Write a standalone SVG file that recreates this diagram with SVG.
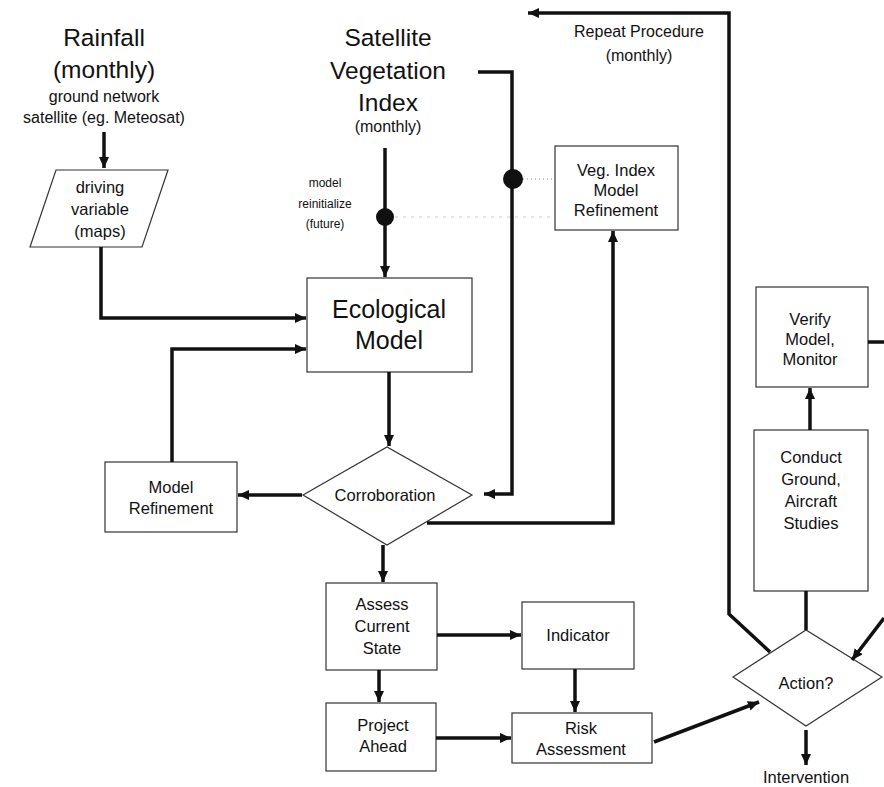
<svg xmlns="http://www.w3.org/2000/svg" width="884" height="787" viewBox="0 0 884 787">
<style>
text{font-family:"Liberation Sans",Arial,sans-serif;fill:#111;text-anchor:middle}
.big{font-size:24.5px}
.eco{font-size:25px}
.med{font-size:16.5px}
.sm{font-size:16px}
.xs{font-size:12px}
.box{fill:#fff;stroke:#333;stroke-width:1.2}
.con{fill:none;stroke:#111;stroke-width:3.5;stroke-linejoin:miter}
.arr{marker-end:url(#ah)}
</style>
<defs>
<marker id="ah" markerUnits="userSpaceOnUse" markerWidth="12" markerHeight="10" refX="11" refY="5" orient="auto">
<path d="M0,0 L11,5 L0,10 Z" fill="#111"/>
</marker>
</defs>
<rect width="884" height="787" fill="#fff"/>

<g id="rainfall">
<text class="big" x="104" y="46">Rainfall</text>
<text class="big" x="104" y="78">(monthly)</text>
<text class="sm" x="104" y="102">ground network</text>
<text class="sm" x="104" y="123">satellite (eg. Meteosat)</text>
</g>
<g id="satellite">
<text class="big" x="388" y="46">Satellite</text>
<text class="big" x="388" y="79">Vegetation</text>
<text class="big" x="388" y="111">Index</text>
<text class="sm" x="388" y="132">(monthly)</text>
</g>
<g id="reinit">
<text class="xs" x="325" y="187">model</text>
<text class="xs" x="325" y="208">reinitialize</text>
<text class="xs" x="325" y="228">(future)</text>
</g>
<g id="repeat">
<text class="sm" x="639" y="37">Repeat Procedure</text>
<text class="sm" x="639" y="61">(monthly)</text>
</g>

<g id="driving">
<polygon class="box" points="56,170 168,170 142,247 30,247"/>
<text class="med" x="100" y="193">driving</text>
<text class="med" x="100" y="215">variable</text>
<text class="med" x="100" y="237">(maps)</text>
</g>
<g id="ecological">
<rect class="box" x="307" y="278" width="165" height="94"/>
<text class="eco" x="389" y="318">Ecological</text>
<text class="eco" x="389" y="349">Model</text>
</g>
<g id="vegref">
<rect class="box" x="555" y="146" width="123" height="84"/>
<text class="med" x="616" y="176">Veg. Index</text>
<text class="med" x="616" y="196">Model</text>
<text class="med" x="616" y="216">Refinement</text>
</g>
<g id="modelref">
<rect class="box" x="105" y="462" width="132" height="70"/>
<text class="med" x="171" y="493">Model</text>
<text class="med" x="171" y="514">Refinement</text>
</g>
<g id="corroboration">
<polygon class="box" points="303,495 387,447 472,495 387,545"/>
<text class="med" x="385" y="501">Corroboration</text>
</g>
<g id="assess">
<rect class="box" x="326" y="583" width="111" height="87"/>
<text class="med" x="382" y="610">Assess</text>
<text class="med" x="382" y="632">Current</text>
<text class="med" x="382" y="654">State</text>
</g>
<g id="indicator">
<rect class="box" x="522" y="602" width="112" height="67"/>
<text class="med" x="578" y="641">Indicator</text>
</g>
<g id="project">
<rect class="box" x="326" y="703" width="110" height="68"/>
<text class="med" x="383" y="731">Project</text>
<text class="med" x="383" y="752">Ahead</text>
</g>
<g id="risk">
<rect class="box" x="512" y="713" width="140" height="50"/>
<text class="med" x="581" y="734">Risk</text>
<text class="med" x="581" y="755">Assessment</text>
</g>
<g id="verify">
<rect class="box" x="756" y="287" width="112" height="100"/>
<text class="med" x="810" y="325">Verify</text>
<text class="med" x="810" y="345">Model,</text>
<text class="med" x="810" y="365">Monitor</text>
</g>
<g id="conduct">
<rect class="box" x="754" y="430" width="114" height="161"/>
<text class="med" x="811" y="463">Conduct</text>
<text class="med" x="811" y="485">Ground,</text>
<text class="med" x="811" y="507">Aircraft</text>
<text class="med" x="811" y="529">Studies</text>
</g>
<g id="action">
<polygon class="box" points="733,677 806,630 882,677 806,726"/>
<text class="med" x="806" y="689">Action?</text>
</g>
<g id="intervention">
<text class="med" x="806" y="783">Intervention</text>
</g>

<g id="connectors">
<line x1="395" y1="217" x2="553" y2="217" stroke="#ccc" stroke-width="1" stroke-dasharray="3,5"/>
<line x1="523" y1="179" x2="555" y2="179" stroke="#888" stroke-width="1" stroke-dasharray="1,3"/>
<path class="con arr" d="M104,132 V168"/>
<path class="con arr" d="M101,247 V318 H306"/>
<path class="con arr" d="M172,462 V349 H306"/>
<path class="con arr" d="M385,148 V277"/>
<path class="con arr" d="M478,72 H512 V494 H484"/>
<path class="con arr" d="M389,372 V446"/>
<path class="con arr" d="M302,495 H238"/>
<path class="con arr" d="M427,523 H613 V231"/>
<path class="con arr" d="M383,545 V582"/>
<path class="con arr" d="M437,635 H521"/>
<path class="con arr" d="M379,670 V702"/>
<path class="con arr" d="M575,669 V712"/>
<path class="con arr" d="M436,738 H511"/>
<path class="con arr" d="M654,742 L759,702"/>
<path class="con arr" d="M806,730 V765"/>
<path class="con" d="M806,630 V591"/>
<path class="con arr" d="M810,430 V388"/>
<path class="con" d="M868,342 H884"/>
<path class="con arr" d="M884,618 L852,660"/>
<path class="con arr" d="M770,652 L729,614 V13 H528"/>
<circle cx="385" cy="217" r="9" fill="#111"/>
<circle cx="513" cy="179" r="10" fill="#111"/>
</g>
</svg>
